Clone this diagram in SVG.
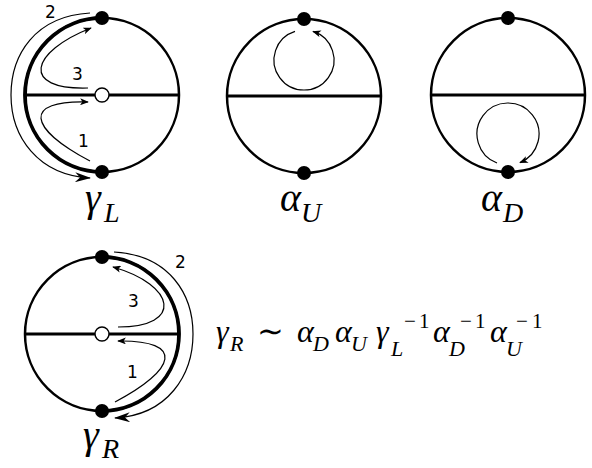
<svg xmlns="http://www.w3.org/2000/svg" width="592" height="468" viewBox="0 0 592 468">
<style>
.ring{fill:none;stroke:#000;stroke-width:2.5}
.thick{fill:none;stroke:#000;stroke-width:3.8}
.bar{stroke:#000;stroke-width:3}
.dot{fill:#000}
.open{fill:#fff;stroke:#000;stroke-width:1.4}
.cur{fill:none;stroke:#000;stroke-width:1.2}
.num{font-family:"DejaVu Sans",sans-serif;font-size:17px;fill:#000}
.m{font-family:"Liberation Serif",serif;font-style:italic;fill:#000}
.r{font-family:"Liberation Serif",serif;fill:#000}
</style>
<defs>
<marker id="ah" viewBox="0 0 10 8" refX="9" refY="4" markerWidth="9" markerHeight="7" markerUnits="userSpaceOnUse" orient="auto">
<path d="M0,0 L10,4 L0,8 L2.5,4 Z" fill="#000"/>
</marker>
<marker id="big" viewBox="0 0 16 10" refX="15" refY="5" markerWidth="17" markerHeight="10" markerUnits="userSpaceOnUse" orient="auto">
<path d="M0,0 L16,5 L0,10 L5,5 Z" fill="#000"/>
</marker>
</defs>

<g id="gammaL">
<circle class="ring" cx="102" cy="95" r="77"/>
<line class="bar" x1="25" y1="95" x2="179" y2="95"/>
<path class="thick" d="M102,18 A77,77 0 0 0 102,172"/>
<circle class="dot" cx="102" cy="18" r="7"/>
<circle class="dot" cx="102" cy="172" r="7"/>
<circle class="open" cx="102" cy="95" r="7"/>
<text class="m" x="85" y="211" font-size="40">γ</text>
<text class="m" x="104" y="222" font-size="28">L</text>
</g>

<g id="alphaU">
<circle class="ring" cx="304" cy="96" r="77"/>
<line class="bar" x1="227" y1="96" x2="381" y2="96"/>
<circle class="dot" cx="304" cy="19" r="7"/>
<circle class="dot" cx="304" cy="173" r="7"/>
<text class="m" x="280" y="211" font-size="40">α</text>
<text class="m" x="301" y="222" font-size="28">U</text>
</g>

<g id="alphaD">
<circle class="ring" cx="508" cy="95" r="77"/>
<line class="bar" x1="431" y1="95" x2="585" y2="95"/>
<circle class="dot" cx="508" cy="18" r="7"/>
<circle class="dot" cx="508" cy="172" r="7"/>
<text class="m" x="481" y="211" font-size="40">α</text>
<text class="m" x="503" y="222" font-size="28">D</text>
</g>

<g id="gammaR">
<circle class="ring" cx="102" cy="334" r="77"/>
<line class="bar" x1="25" y1="334" x2="179" y2="334"/>
<path class="thick" d="M102,257 A77,77 0 0 1 102,411"/>
<circle class="dot" cx="102" cy="257" r="7"/>
<circle class="dot" cx="102" cy="411" r="7"/>
<circle class="open" cx="102" cy="334" r="7"/>
<text class="m" x="83" y="448" font-size="40">γ</text>
<text class="m" x="102" y="458" font-size="28">R</text>
</g>

<g id="connectors">
<path class="cur" marker-end="url(#big)" d="M90,13 C35,16 11,55 11,95 C11,137 38,175 90,178"/>
<path class="cur" marker-end="url(#ah)" d="M88,88 C20,90 30,52 91,28"/>
<path class="cur" marker-end="url(#ah)" d="M90,161 C28,128 22,100 88,102"/>
<path class="cur" marker-end="url(#ah)" d="M295,31.4 A30,30 0 1 0 313,31.4"/>
<path class="cur" marker-end="url(#ah)" d="M497,163 A31,31 0 1 1 520,162.6"/>
<path class="cur" marker-end="url(#big)" d="M114,252 C170,255 193,295 193,334 C193,375 168,415 115,418"/>
<path class="cur" marker-end="url(#ah)" d="M118,327 C184,327 176,285 113,267"/>
<path class="cur" marker-end="url(#ah)" d="M115,402 C176,370 186,340 118,341"/>
</g>

<g id="numbers">
<text class="num" x="45" y="18">2</text>
<text class="num" x="72" y="80">3</text>
<text class="num" x="78" y="147">1</text>
<text class="num" x="175" y="268">2</text>
<text class="num" x="128" y="307">3</text>
<text class="num" x="127" y="378">1</text>
</g>

<g id="formula">
<text class="m" x="216" y="342" font-size="32">γ</text>
<text class="m" x="230" y="351" font-size="22">R</text>
<text class="r" x="257" y="342" font-size="32">∼</text>
<text class="m" x="297" y="342" font-size="32">α</text>
<text class="m" x="313" y="351" font-size="22">D</text>
<text class="m" x="335" y="342" font-size="32">α</text>
<text class="m" x="351" y="351" font-size="22">U</text>
<text class="m" x="376" y="342" font-size="32">γ</text>
<text class="m" x="391" y="356" font-size="22">L</text>
<text class="r" x="404" y="328" font-size="21">−</text>
<text class="r" x="419" y="328" font-size="21">1</text>
<text class="m" x="433" y="342" font-size="32">α</text>
<text class="m" x="449" y="356" font-size="22">D</text>
<text class="r" x="460" y="328" font-size="21">−</text>
<text class="r" x="475" y="328" font-size="21">1</text>
<text class="m" x="490" y="342" font-size="32">α</text>
<text class="m" x="506" y="356" font-size="22">U</text>
<text class="r" x="516" y="328" font-size="21">−</text>
<text class="r" x="532" y="328" font-size="21">1</text>
</g>
</svg>
